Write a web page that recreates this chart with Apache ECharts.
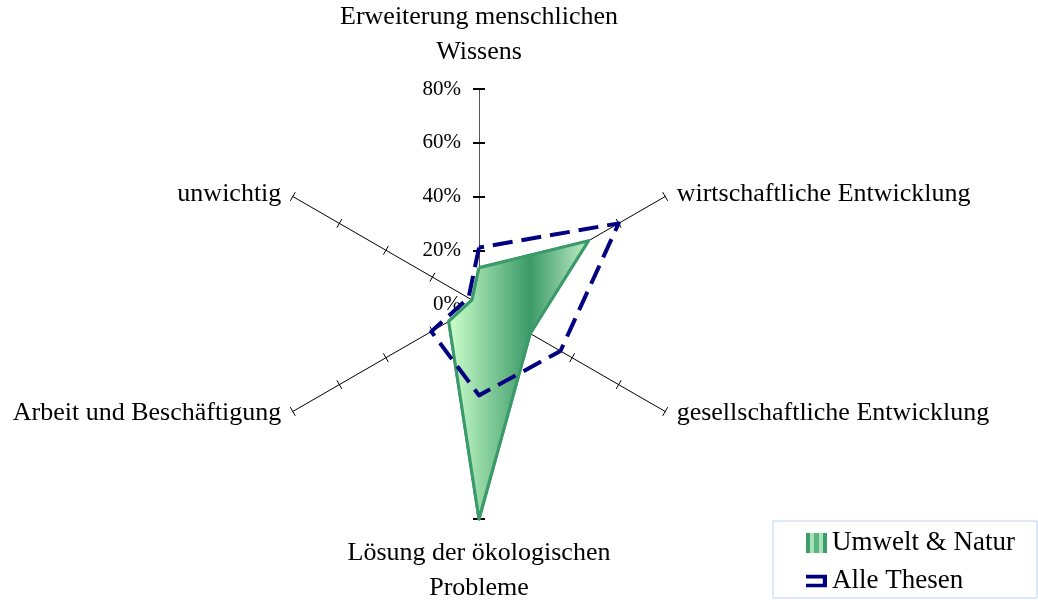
<!DOCTYPE html>
<html><head><meta charset="utf-8">
<script src="https://cdn.jsdelivr.net/npm/echarts@6/dist/echarts.min.js"></script>
<style>html,body{margin:0;padding:0;background:#fff}#c{width:1038px;height:600px}</style>
</head><body><div id="c"></div>
<script>
// categories in ECharts radar order (counter-clockwise from top)
const categories = [
  'Erweiterung menschlichen\nWissens',
  'unwichtig',
  'Arbeit und Beschäftigung',
  'Lösung der ökologischen\nProbleme',
  'gesellschaftliche Entwicklung',
  'wirtschaftliche Entwicklung'
];
const seriesNames = ['Umwelt & Natur', 'Alle Thesen'];
const umweltNatur = [13.5, 3, 13, 80, 22, 47];
const alleThesen = [21, 4.5, 20.5, 34, 35, 60];
const axisMin = 0;
const axisMax = 80;
const tickLabels = ['0%', '20%', '40%', '60%', '80%'];

const FONT = "'Liberation Serif','Times New Roman',serif";
const chart = echarts.init(document.getElementById('c'), null, {renderer: 'canvas'});

function buildIndicators(main) {
  return categories.map(function (c, i) {
    const vertical = (i === 0 || i === 3);
    const o = {name: c, min: axisMin, max: axisMax};
    o.axisTick = {show: true, length: (vertical ? 6 : 5) * (main ? 1 : -1),
      lineStyle: {color: '#000', width: vertical ? 2 : 1}};
    if (main) {
      o.nameGap = i === 0 ? 19 : (i === 3 ? 17 : 4);
      o.axisLine = {show: true, lineStyle: {color: vertical ? '#555' : '#000', width: 1}};
      if (i === 0) {
        o.axisLabel = {show: true, margin: 18, color: '#000', fontSize: 21, fontFamily: FONT,
          showMinLabel: true, showMaxLabel: true,
          formatter: function (v) { return tickLabels[Math.round((v - axisMin) / (axisMax - axisMin) * (tickLabels.length - 1))]; }};
      }
    } else {
      o.axisLine = {show: false};
    }
    return o;
  });
}

const radarBase = {
  center: [479, 304], radius: 215, startAngle: 90, splitNumber: 4, shape: 'polygon',
  splitLine: {show: false}, splitArea: {show: false}
};

const greenFill = new echarts.graphic.LinearGradient(0, 0, 1, 0, [
  {offset: 0, color: '#ccffcc'},
  {offset: 0.58, color: '#3b9a68'},
  {offset: 1, color: '#c0eec6'}
]);
const legendStripes = new echarts.graphic.LinearGradient(0, 0, 1, 0, [
  {offset: 0, color: '#3d9d6d'}, {offset: 0.2, color: '#3d9d6d'},
  {offset: 0.2, color: '#a8e2b4'}, {offset: 0.4, color: '#a8e2b4'},
  {offset: 0.4, color: '#5cb482'}, {offset: 0.6, color: '#5cb482'},
  {offset: 0.6, color: '#a8e2b4'}, {offset: 0.8, color: '#a8e2b4'},
  {offset: 0.8, color: '#3d9d6d'}, {offset: 1, color: '#3d9d6d'}
]);

const option = {
  backgroundColor: '#fff',
  animation: false,
  radar: [
    Object.assign({}, radarBase, {
      axisName: {show: true, color: '#000', fontSize: 26, fontFamily: FONT, lineHeight: 35, padding: [0, 8, 0, 8]},
      axisNameGap: 4,
      indicator: buildIndicators(true)
    }),
    Object.assign({}, radarBase, {
      axisName: {show: false},
      indicator: buildIndicators(false)
    })
  ],
  legend: {
    orient: 'vertical', left: 773, top: 521, padding: [8, 22, 3, 33], itemGap: 10,
    itemWidth: 21, itemHeight: 20, borderColor: '#bcd4f2', borderWidth: 1,
    selectedMode: false, align: 'left',
    textStyle: {fontFamily: FONT, fontSize: 27, color: '#000', lineHeight: 28},
    data: [
      {name: seriesNames[0], icon: 'rect', itemStyle: {color: legendStripes, borderWidth: 0}},
      {name: seriesNames[1], icon: 'path://M0,0H20V12H0V8.5H16V3.5H0Z', itemStyle: {color: '#000080', borderWidth: 0}}
    ]
  },
  series: [
    {type: 'radar', radarIndex: 0, symbol: 'none', z: 2,
      data: [{value: umweltNatur, name: seriesNames[0],
        lineStyle: {color: '#3a9a6a', width: 3},
        itemStyle: {color: '#3a9a6a'},
        areaStyle: {color: greenFill, opacity: 1}}]},
    // outline of the same polygon, drawn above the fill
    {type: 'radar', radarIndex: 0, symbol: 'none', z: 3,
      data: [{value: umweltNatur, name: seriesNames[0] + ' ',
        lineStyle: {color: '#3a9a6a', width: 3},
        itemStyle: {color: '#3a9a6a'}}]},
    {type: 'radar', radarIndex: 0, symbol: 'none', z: 4,
      data: [{value: alleThesen, name: seriesNames[1],
        lineStyle: {color: '#000080', width: 4, type: [20, 9]},
        itemStyle: {color: '#000080'}}]}
  ]
};
chart.setOption(option);
</script></body></html>
